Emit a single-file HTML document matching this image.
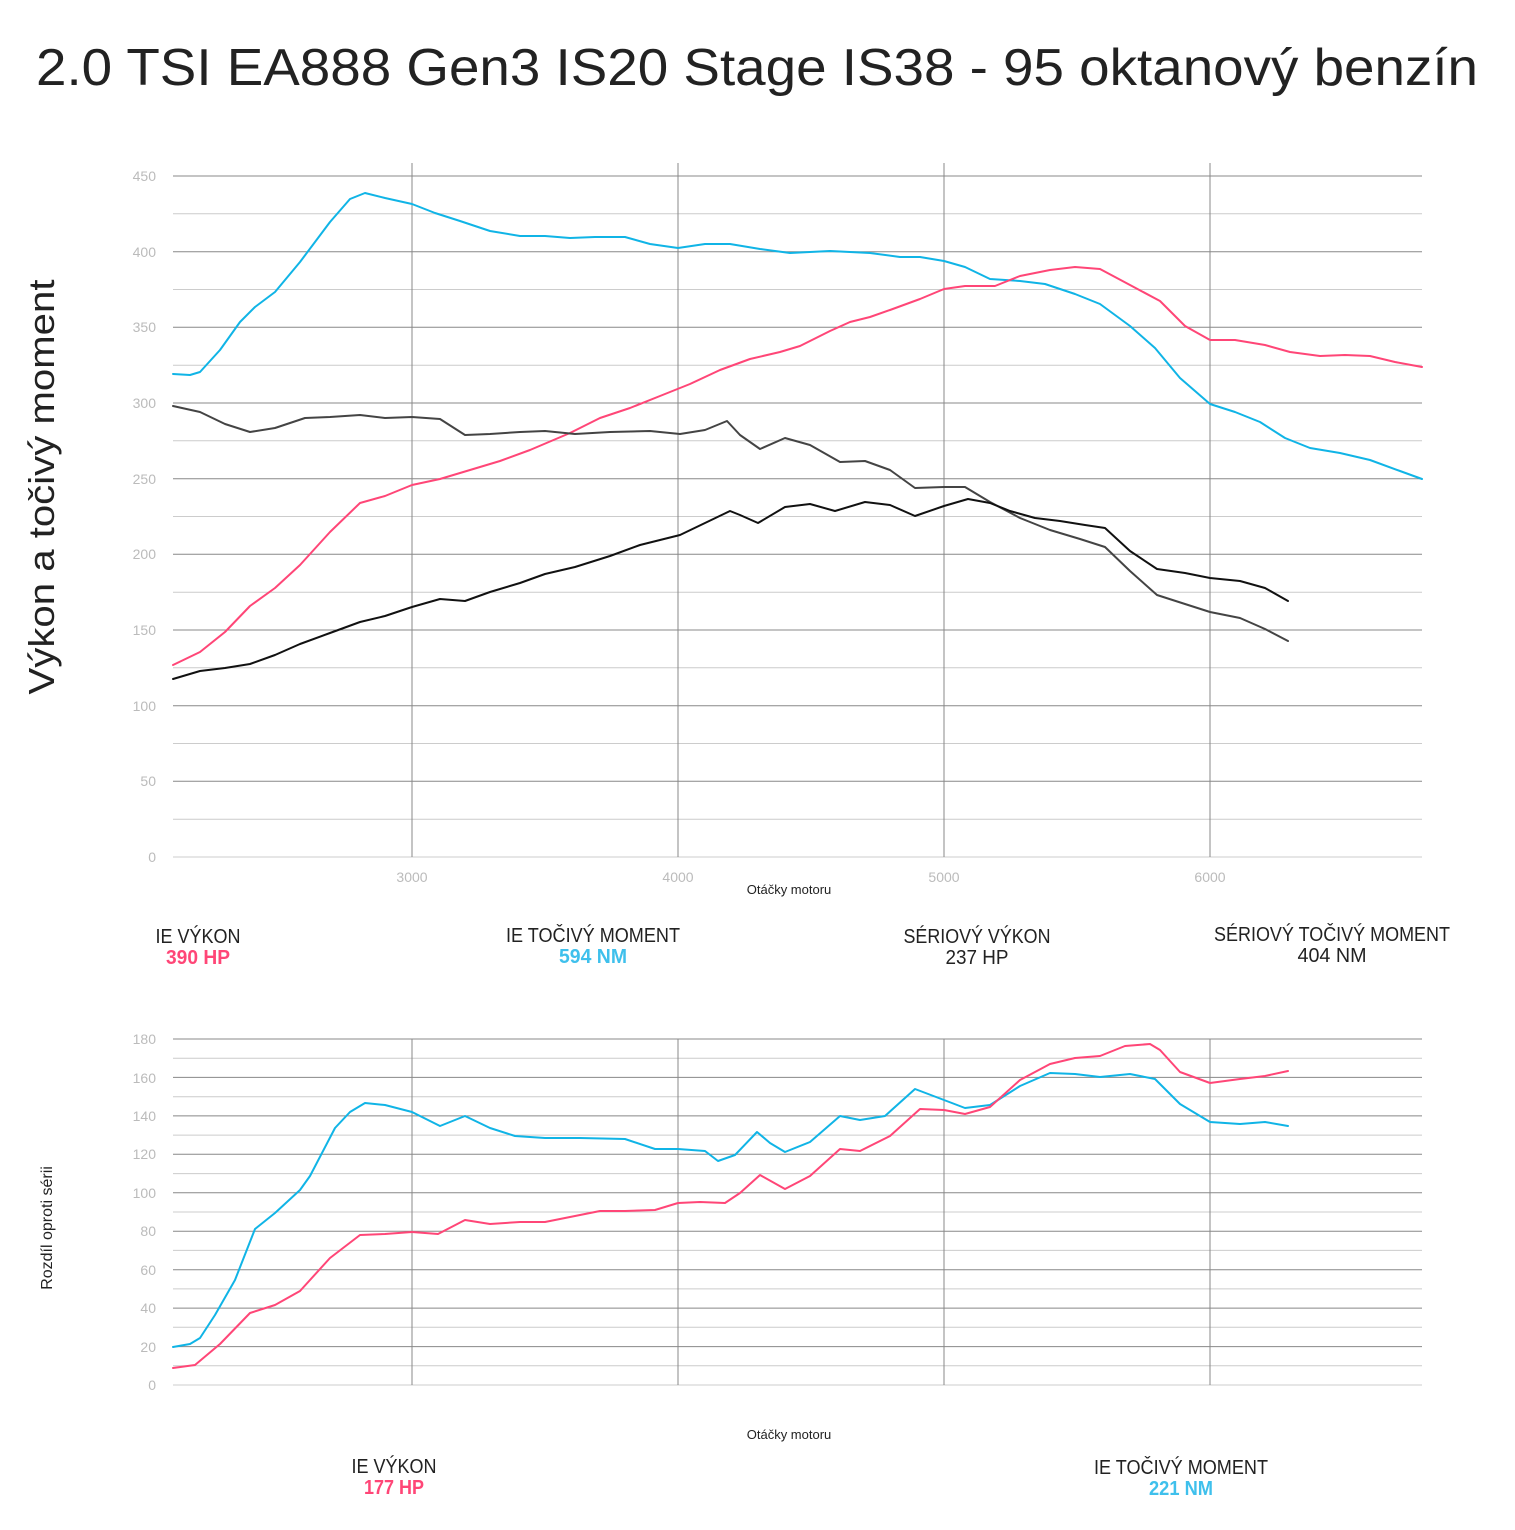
<!DOCTYPE html>
<html><head><meta charset="utf-8"><style>body{margin:0;background:#fff}svg{display:block}text{font-family:"Liberation Sans",sans-serif}</style></head>
<body>
<svg width="1515" height="1530" viewBox="0 0 1515 1530" xmlns="http://www.w3.org/2000/svg">
<text x="36" y="85" font-size="52" fill="#222" textLength="1442" lengthAdjust="spacingAndGlyphs">2.0 TSI EA888 Gen3 IS20 Stage IS38 - 95 oktanový benzín</text>
<text transform="translate(54,487) rotate(-90)" font-size="36" fill="#222" text-anchor="middle" textLength="415" lengthAdjust="spacingAndGlyphs">Výkon a točivý moment</text>
<g font-size="14" fill="#bbb" text-anchor="end">
<line x1="173" x2="1422" y1="857" y2="857" stroke="#ccc"/>
<line x1="173" x2="1422" y1="819.2" y2="819.2" stroke="#ccc"/>
<line x1="173" x2="1422" y1="781.3" y2="781.3" stroke="#888"/>
<line x1="173" x2="1422" y1="743.5" y2="743.5" stroke="#ccc"/>
<line x1="173" x2="1422" y1="705.7" y2="705.7" stroke="#888"/>
<line x1="173" x2="1422" y1="667.8" y2="667.8" stroke="#ccc"/>
<line x1="173" x2="1422" y1="630" y2="630" stroke="#888"/>
<line x1="173" x2="1422" y1="592.2" y2="592.2" stroke="#ccc"/>
<line x1="173" x2="1422" y1="554.3" y2="554.3" stroke="#888"/>
<line x1="173" x2="1422" y1="516.5" y2="516.5" stroke="#ccc"/>
<line x1="173" x2="1422" y1="478.7" y2="478.7" stroke="#888"/>
<line x1="173" x2="1422" y1="440.8" y2="440.8" stroke="#ccc"/>
<line x1="173" x2="1422" y1="403" y2="403" stroke="#888"/>
<line x1="173" x2="1422" y1="365.2" y2="365.2" stroke="#ccc"/>
<line x1="173" x2="1422" y1="327.3" y2="327.3" stroke="#888"/>
<line x1="173" x2="1422" y1="289.5" y2="289.5" stroke="#ccc"/>
<line x1="173" x2="1422" y1="251.7" y2="251.7" stroke="#888"/>
<line x1="173" x2="1422" y1="213.8" y2="213.8" stroke="#ccc"/>
<line x1="173" x2="1422" y1="176" y2="176" stroke="#888"/>
<g stroke="#888"><line x1="412" x2="412" y1="163" y2="857"/><line x1="678" x2="678" y1="163" y2="857"/><line x1="944" x2="944" y1="163" y2="857"/><line x1="1210" x2="1210" y1="163" y2="857"/></g>
<text x="156" y="862">0</text><text x="156" y="786">50</text><text x="156" y="711">100</text><text x="156" y="635">150</text><text x="156" y="559">200</text><text x="156" y="484">250</text><text x="156" y="408">300</text><text x="156" y="332">350</text><text x="156" y="257">400</text><text x="156" y="181">450</text>
<g text-anchor="middle"><text x="412" y="882">3000</text><text x="678" y="882">4000</text><text x="944" y="882">5000</text><text x="1210" y="882">6000</text></g>
</g>
<text x="789" y="894" font-size="13" fill="#222" text-anchor="middle">Otáčky motoru</text>
<g fill="none" stroke-width="2" stroke-linejoin="round" stroke-linecap="round">
<polyline stroke="#10b4e6" points="173,374 190,375 200,372 220,350 240,322 255,307 275,292 300,262 330,222 350,199 365,193 385,198 412,204 435,213 460,221 490,231 520,236 545,236 570,238 595,237 625,237 650,244 678,248 705,244 730,244 760,249 790,253 830,251 870,253 900,257 920,257 944,261 965,267 990,279 1020,281 1045,284 1075,294 1100,304 1130,326 1155,348 1180,378 1210,404 1235,412 1260,422 1285,438 1310,448 1340,453 1370,460 1400,471 1422,479"/>
<polyline stroke="#ff4677" points="173,665 200,652 225,632 250,606 275,588 300,565 330,532 360,503 385,496 412,485 440,479 470,470 500,461 530,450 570,433 600,418 630,408 660,396 690,384 720,370 750,359 780,352 800,346 830,331 850,322 870,317 890,310 920,299 944,289 965,286 995,286 1020,276 1050,270 1075,267 1100,269 1130,285 1160,301 1185,326 1210,340 1235,340 1265,345 1290,352 1320,356 1345,355 1370,356 1395,362 1422,367"/>
<polyline stroke="#444" points="173,406 200,412 225,424 250,432 275,428 305,418 330,417 360,415 385,418 412,417 440,419 465,435 490,434 520,432 545,431 575,434 610,432 650,431 680,434 705,430 727,421 740,435 760,449 785,438 810,445 840,462 865,461 890,470 915,488 944,487 965,487 990,502 1020,518 1050,530 1080,539 1105,547 1130,571 1157,595 1185,604 1210,612 1240,618 1265,629 1288,641"/>
<polyline stroke="#111" points="173,679 200,671 225,668 250,664 275,655 300,644 330,633 360,622 385,616 412,607 440,599 465,601 490,592 520,583 545,574 575,567 610,556 640,545 660,540 680,535 705,523 730,511 740,515 758,523 785,507 810,504 835,511 865,502 890,505 915,516 944,506 968,499 990,503 1010,511 1035,518 1060,521 1085,525 1105,528 1130,551 1157,569 1185,573 1210,578 1240,581 1265,588 1288,601"/>
</g>
<g font-size="20" fill="#222" text-anchor="middle" lengthAdjust="spacingAndGlyphs">
<text x="198" y="943" textLength="85" lengthAdjust="spacingAndGlyphs">IE VÝKON</text><text x="198" y="964" fill="#ff4677" font-weight="bold" textLength="64" lengthAdjust="spacingAndGlyphs">390 HP</text>
<text x="593" y="942" textLength="174" lengthAdjust="spacingAndGlyphs">IE TOČIVÝ MOMENT</text><text x="593" y="963" fill="#3fc0ec" font-weight="bold" textLength="68" lengthAdjust="spacingAndGlyphs">594 NM</text>
<text x="977" y="943" textLength="147" lengthAdjust="spacingAndGlyphs">SÉRIOVÝ VÝKON</text><text x="977" y="964" textLength="63" lengthAdjust="spacingAndGlyphs">237 HP</text>
<text x="1332" y="941" textLength="236" lengthAdjust="spacingAndGlyphs">SÉRIOVÝ TOČIVÝ MOMENT</text><text x="1332" y="962" textLength="69" lengthAdjust="spacingAndGlyphs">404 NM</text>
<text x="394" y="1473" textLength="85" lengthAdjust="spacingAndGlyphs">IE VÝKON</text><text x="394" y="1494" fill="#ff4677" font-weight="bold" textLength="60" lengthAdjust="spacingAndGlyphs">177 HP</text>
<text x="1181" y="1474" textLength="174" lengthAdjust="spacingAndGlyphs">IE TOČIVÝ MOMENT</text><text x="1181" y="1495" fill="#3fc0ec" font-weight="bold" textLength="64" lengthAdjust="spacingAndGlyphs">221 NM</text>
</g>
<text transform="translate(52,1228) rotate(-90)" font-size="16" fill="#222" text-anchor="middle">Rozdíl oproti sérii</text>
<g font-size="14" fill="#bbb" text-anchor="end">
<line x1="173" x2="1422" y1="1385" y2="1385" stroke="#ccc"/>
<line x1="173" x2="1422" y1="1365.8" y2="1365.8" stroke="#ccc"/>
<line x1="173" x2="1422" y1="1346.6" y2="1346.6" stroke="#888"/>
<line x1="173" x2="1422" y1="1327.3" y2="1327.3" stroke="#ccc"/>
<line x1="173" x2="1422" y1="1308.1" y2="1308.1" stroke="#888"/>
<line x1="173" x2="1422" y1="1288.9" y2="1288.9" stroke="#ccc"/>
<line x1="173" x2="1422" y1="1269.7" y2="1269.7" stroke="#888"/>
<line x1="173" x2="1422" y1="1250.4" y2="1250.4" stroke="#ccc"/>
<line x1="173" x2="1422" y1="1231.2" y2="1231.2" stroke="#888"/>
<line x1="173" x2="1422" y1="1212" y2="1212" stroke="#ccc"/>
<line x1="173" x2="1422" y1="1192.8" y2="1192.8" stroke="#888"/>
<line x1="173" x2="1422" y1="1173.6" y2="1173.6" stroke="#ccc"/>
<line x1="173" x2="1422" y1="1154.3" y2="1154.3" stroke="#888"/>
<line x1="173" x2="1422" y1="1135.1" y2="1135.1" stroke="#ccc"/>
<line x1="173" x2="1422" y1="1115.9" y2="1115.9" stroke="#888"/>
<line x1="173" x2="1422" y1="1096.7" y2="1096.7" stroke="#ccc"/>
<line x1="173" x2="1422" y1="1077.4" y2="1077.4" stroke="#888"/>
<line x1="173" x2="1422" y1="1058.2" y2="1058.2" stroke="#ccc"/>
<line x1="173" x2="1422" y1="1039" y2="1039" stroke="#888"/>
<g stroke="#888"><line x1="412" x2="412" y1="1039" y2="1385"/><line x1="678" x2="678" y1="1039" y2="1385"/><line x1="944" x2="944" y1="1039" y2="1385"/><line x1="1210" x2="1210" y1="1039" y2="1385"/></g>
<text x="156" y="1390">0</text><text x="156" y="1352">20</text><text x="156" y="1313">40</text><text x="156" y="1275">60</text><text x="156" y="1236">80</text><text x="156" y="1198">100</text><text x="156" y="1159">120</text><text x="156" y="1121">140</text><text x="156" y="1083">160</text><text x="156" y="1044">180</text>
</g>
<text x="789" y="1439" font-size="13" fill="#222" text-anchor="middle">Otáčky motoru</text>
<g fill="none" stroke-width="2" stroke-linejoin="round" stroke-linecap="round">
<polyline stroke="#10b4e6" points="173,1347 190,1344 200,1338 215,1315 235,1280 255,1229 275,1213 300,1190 310,1176 335,1128 350,1112 365,1103 385,1105 412,1112 440,1126 465,1116 490,1128 515,1136 545,1138 580,1138 625,1139 655,1149 678,1149 705,1151 718,1161 735,1155 757,1132 770,1143 785,1152 810,1142 840,1116 860,1120 885,1116 915,1089 944,1100 965,1108 990,1105 1020,1086 1050,1073 1075,1074 1100,1077 1130,1074 1155,1079 1180,1104 1210,1122 1240,1124 1265,1122 1288,1126"/>
<polyline stroke="#ff4677" points="173,1368 195,1365 220,1344 250,1313 275,1305 300,1291 330,1258 360,1235 385,1234 412,1232 438,1234 465,1220 490,1224 520,1222 545,1222 575,1216 600,1211 625,1211 655,1210 678,1203 700,1202 725,1203 740,1193 760,1175 785,1189 810,1176 840,1149 860,1151 890,1136 920,1109 944,1110 965,1114 990,1107 1020,1080 1050,1064 1075,1058 1100,1056 1125,1046 1150,1044 1160,1050 1180,1072 1210,1083 1240,1079 1265,1076 1288,1071"/>
</g>
</svg>
</body></html>
